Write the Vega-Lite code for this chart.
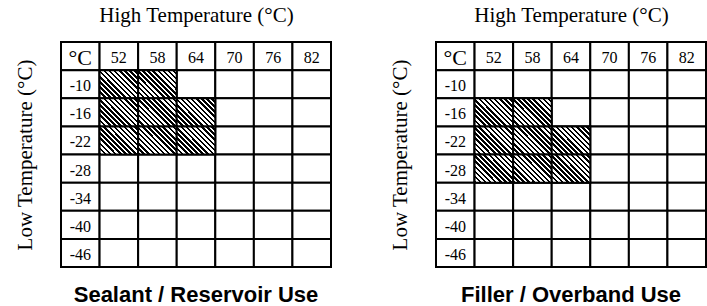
{
  "$schema": "https://vega.github.io/schema/vega-lite/v6.json",
  "padding": {"left": 14, "top": 4, "right": 0, "bottom": 0},
  "autosize": {"type": "pad"},
  "background": "white",
  "config": {"view": {"stroke": null}, "concat": {"spacing": 57}},
  "datasets": {
    "grid": [
      {"c": "h", "r": "h", "t": "°C"}, {"c": "52", "r": "h", "t": "52"}, {"c": "58", "r": "h", "t": "58"}, {"c": "64", "r": "h", "t": "64"}, {"c": "70", "r": "h", "t": "70"}, {"c": "76", "r": "h", "t": "76"}, {"c": "82", "r": "h", "t": "82"},
      {"c": "h", "r": "-10", "t": "-10"}, {"c": "52", "r": "-10", "t": ""}, {"c": "58", "r": "-10", "t": ""}, {"c": "64", "r": "-10", "t": ""}, {"c": "70", "r": "-10", "t": ""}, {"c": "76", "r": "-10", "t": ""}, {"c": "82", "r": "-10", "t": ""},
      {"c": "h", "r": "-16", "t": "-16"}, {"c": "52", "r": "-16", "t": ""}, {"c": "58", "r": "-16", "t": ""}, {"c": "64", "r": "-16", "t": ""}, {"c": "70", "r": "-16", "t": ""}, {"c": "76", "r": "-16", "t": ""}, {"c": "82", "r": "-16", "t": ""},
      {"c": "h", "r": "-22", "t": "-22"}, {"c": "52", "r": "-22", "t": ""}, {"c": "58", "r": "-22", "t": ""}, {"c": "64", "r": "-22", "t": ""}, {"c": "70", "r": "-22", "t": ""}, {"c": "76", "r": "-22", "t": ""}, {"c": "82", "r": "-22", "t": ""},
      {"c": "h", "r": "-28", "t": "-28"}, {"c": "52", "r": "-28", "t": ""}, {"c": "58", "r": "-28", "t": ""}, {"c": "64", "r": "-28", "t": ""}, {"c": "70", "r": "-28", "t": ""}, {"c": "76", "r": "-28", "t": ""}, {"c": "82", "r": "-28", "t": ""},
      {"c": "h", "r": "-34", "t": "-34"}, {"c": "52", "r": "-34", "t": ""}, {"c": "58", "r": "-34", "t": ""}, {"c": "64", "r": "-34", "t": ""}, {"c": "70", "r": "-34", "t": ""}, {"c": "76", "r": "-34", "t": ""}, {"c": "82", "r": "-34", "t": ""},
      {"c": "h", "r": "-40", "t": "-40"}, {"c": "52", "r": "-40", "t": ""}, {"c": "58", "r": "-40", "t": ""}, {"c": "64", "r": "-40", "t": ""}, {"c": "70", "r": "-40", "t": ""}, {"c": "76", "r": "-40", "t": ""}, {"c": "82", "r": "-40", "t": ""},
      {"c": "h", "r": "-46", "t": "-46"}, {"c": "52", "r": "-46", "t": ""}, {"c": "58", "r": "-46", "t": ""}, {"c": "64", "r": "-46", "t": ""}, {"c": "70", "r": "-46", "t": ""}, {"c": "76", "r": "-46", "t": ""}, {"c": "82", "r": "-46", "t": ""}
    ],
    "hatch": [
      {"use": "Sealant", "c": "52", "r": "-10"}, {"use": "Sealant", "c": "58", "r": "-10"},
      {"use": "Sealant", "c": "52", "r": "-16"}, {"use": "Sealant", "c": "58", "r": "-16"}, {"use": "Sealant", "c": "64", "r": "-16"},
      {"use": "Sealant", "c": "52", "r": "-22"}, {"use": "Sealant", "c": "58", "r": "-22"}, {"use": "Sealant", "c": "64", "r": "-22"},
      {"use": "Filler", "c": "52", "r": "-16"}, {"use": "Filler", "c": "58", "r": "-16"},
      {"use": "Filler", "c": "52", "r": "-22"}, {"use": "Filler", "c": "58", "r": "-22"}, {"use": "Filler", "c": "64", "r": "-22"},
      {"use": "Filler", "c": "52", "r": "-28"}, {"use": "Filler", "c": "58", "r": "-28"}, {"use": "Filler", "c": "64", "r": "-28"}
    ]
  },
  "hconcat": [
    {
      "width": 270, "height": 225,
      "title": {"text": "Sealant / Reservoir Use", "orient": "bottom", "font": "Liberation Sans", "fontSize": 22, "fontWeight": "bold", "color": "black", "offset": 17, "anchor": "middle"},
      "encoding": {
        "x": {"field": "c", "type": "nominal", "scale": {"domain": ["h", "52", "58", "64", "70", "76", "82"], "paddingInner": 0, "paddingOuter": 0},
          "axis": {"orient": "top", "title": "High Temperature (°C)", "labels": false, "ticks": false, "domain": false, "grid": false, "titleFont": "Liberation Serif", "titleFontSize": 21, "titleFontWeight": "normal", "titleColor": "black", "titlePadding": 17}},
        "y": {"field": "r", "type": "nominal", "scale": {"domain": ["h", "-10", "-16", "-22", "-28", "-34", "-40", "-46"], "paddingInner": 0, "paddingOuter": 0},
          "axis": {"orient": "left", "title": "Low Temperature (°C)", "labels": false, "ticks": false, "domain": false, "grid": false, "titleFont": "Liberation Serif", "titleFontSize": 21, "titleFontWeight": "normal", "titleColor": "black", "titlePadding": 26}}
      },
      "layer": [
        {"data": {"name": "grid"}, "mark": {"type": "rect", "fill": "white", "stroke": "black", "strokeWidth": 2}},
        {"data": {"name": "hatch"}, "transform": [{"filter": "datum.use === 'Sealant'"}],
          "mark": {"type": "rect", "stroke": "black", "strokeWidth": 2,
            "fill": {"gradient": "linear", "x1": 0, "y1": 1, "x2": 1.13, "y2": 0.18, "stops": [
              {"offset": 0, "color": "black"}, {"offset": 0.03846, "color": "black"}, {"offset": 0.03846, "color": "white"}, {"offset": 0.07692, "color": "white"},
              {"offset": 0.07692, "color": "black"}, {"offset": 0.11538, "color": "black"}, {"offset": 0.11538, "color": "white"}, {"offset": 0.15385, "color": "white"},
              {"offset": 0.15385, "color": "black"}, {"offset": 0.19231, "color": "black"}, {"offset": 0.19231, "color": "white"}, {"offset": 0.23077, "color": "white"},
              {"offset": 0.23077, "color": "black"}, {"offset": 0.26923, "color": "black"}, {"offset": 0.26923, "color": "white"}, {"offset": 0.30769, "color": "white"},
              {"offset": 0.30769, "color": "black"}, {"offset": 0.34615, "color": "black"}, {"offset": 0.34615, "color": "white"}, {"offset": 0.38462, "color": "white"},
              {"offset": 0.38462, "color": "black"}, {"offset": 0.42308, "color": "black"}, {"offset": 0.42308, "color": "white"}, {"offset": 0.46154, "color": "white"},
              {"offset": 0.46154, "color": "black"}, {"offset": 0.5, "color": "black"}, {"offset": 0.5, "color": "white"}, {"offset": 0.53846, "color": "white"},
              {"offset": 0.53846, "color": "black"}, {"offset": 0.57692, "color": "black"}, {"offset": 0.57692, "color": "white"}, {"offset": 0.61538, "color": "white"},
              {"offset": 0.61538, "color": "black"}, {"offset": 0.65385, "color": "black"}, {"offset": 0.65385, "color": "white"}, {"offset": 0.69231, "color": "white"},
              {"offset": 0.69231, "color": "black"}, {"offset": 0.73077, "color": "black"}, {"offset": 0.73077, "color": "white"}, {"offset": 0.76923, "color": "white"},
              {"offset": 0.76923, "color": "black"}, {"offset": 0.80769, "color": "black"}, {"offset": 0.80769, "color": "white"}, {"offset": 0.84615, "color": "white"},
              {"offset": 0.84615, "color": "black"}, {"offset": 0.88462, "color": "black"}, {"offset": 0.88462, "color": "white"}, {"offset": 0.92308, "color": "white"},
              {"offset": 0.92308, "color": "black"}, {"offset": 0.96154, "color": "black"}, {"offset": 0.96154, "color": "white"}, {"offset": 1, "color": "white"}
            ]}}},
        {"data": {"name": "grid"}, "mark": {"type": "text", "font": "Liberation Serif", "color": "black", "dy": 2},
          "encoding": {"text": {"field": "t"}, "size": {"condition": {"test": "datum.t === '°C'", "value": 22}, "value": 16}}}
      ]
    },
    {
      "width": 270, "height": 225,
      "title": {"text": "Filler / Overband Use", "orient": "bottom", "font": "Liberation Sans", "fontSize": 22, "fontWeight": "bold", "color": "black", "offset": 17, "anchor": "middle"},
      "encoding": {
        "x": {"field": "c", "type": "nominal", "scale": {"domain": ["h", "52", "58", "64", "70", "76", "82"], "paddingInner": 0, "paddingOuter": 0},
          "axis": {"orient": "top", "title": "High Temperature (°C)", "labels": false, "ticks": false, "domain": false, "grid": false, "titleFont": "Liberation Serif", "titleFontSize": 21, "titleFontWeight": "normal", "titleColor": "black", "titlePadding": 17}},
        "y": {"field": "r", "type": "nominal", "scale": {"domain": ["h", "-10", "-16", "-22", "-28", "-34", "-40", "-46"], "paddingInner": 0, "paddingOuter": 0},
          "axis": {"orient": "left", "title": "Low Temperature (°C)", "labels": false, "ticks": false, "domain": false, "grid": false, "titleFont": "Liberation Serif", "titleFontSize": 21, "titleFontWeight": "normal", "titleColor": "black", "titlePadding": 26}}
      },
      "layer": [
        {"data": {"name": "grid"}, "mark": {"type": "rect", "fill": "white", "stroke": "black", "strokeWidth": 2}},
        {"data": {"name": "hatch"}, "transform": [{"filter": "datum.use === 'Filler'"}],
          "mark": {"type": "rect", "stroke": "black", "strokeWidth": 2,
            "fill": {"gradient": "linear", "x1": 0, "y1": 1, "x2": 1.13, "y2": 0.18, "stops": [
              {"offset": 0, "color": "black"}, {"offset": 0.03846, "color": "black"}, {"offset": 0.03846, "color": "white"}, {"offset": 0.07692, "color": "white"},
              {"offset": 0.07692, "color": "black"}, {"offset": 0.11538, "color": "black"}, {"offset": 0.11538, "color": "white"}, {"offset": 0.15385, "color": "white"},
              {"offset": 0.15385, "color": "black"}, {"offset": 0.19231, "color": "black"}, {"offset": 0.19231, "color": "white"}, {"offset": 0.23077, "color": "white"},
              {"offset": 0.23077, "color": "black"}, {"offset": 0.26923, "color": "black"}, {"offset": 0.26923, "color": "white"}, {"offset": 0.30769, "color": "white"},
              {"offset": 0.30769, "color": "black"}, {"offset": 0.34615, "color": "black"}, {"offset": 0.34615, "color": "white"}, {"offset": 0.38462, "color": "white"},
              {"offset": 0.38462, "color": "black"}, {"offset": 0.42308, "color": "black"}, {"offset": 0.42308, "color": "white"}, {"offset": 0.46154, "color": "white"},
              {"offset": 0.46154, "color": "black"}, {"offset": 0.5, "color": "black"}, {"offset": 0.5, "color": "white"}, {"offset": 0.53846, "color": "white"},
              {"offset": 0.53846, "color": "black"}, {"offset": 0.57692, "color": "black"}, {"offset": 0.57692, "color": "white"}, {"offset": 0.61538, "color": "white"},
              {"offset": 0.61538, "color": "black"}, {"offset": 0.65385, "color": "black"}, {"offset": 0.65385, "color": "white"}, {"offset": 0.69231, "color": "white"},
              {"offset": 0.69231, "color": "black"}, {"offset": 0.73077, "color": "black"}, {"offset": 0.73077, "color": "white"}, {"offset": 0.76923, "color": "white"},
              {"offset": 0.76923, "color": "black"}, {"offset": 0.80769, "color": "black"}, {"offset": 0.80769, "color": "white"}, {"offset": 0.84615, "color": "white"},
              {"offset": 0.84615, "color": "black"}, {"offset": 0.88462, "color": "black"}, {"offset": 0.88462, "color": "white"}, {"offset": 0.92308, "color": "white"},
              {"offset": 0.92308, "color": "black"}, {"offset": 0.96154, "color": "black"}, {"offset": 0.96154, "color": "white"}, {"offset": 1, "color": "white"}
            ]}}},
        {"data": {"name": "grid"}, "mark": {"type": "text", "font": "Liberation Serif", "color": "black", "dy": 2},
          "encoding": {"text": {"field": "t"}, "size": {"condition": {"test": "datum.t === '°C'", "value": 22}, "value": 16}}}
      ]
    }
  ]
}
